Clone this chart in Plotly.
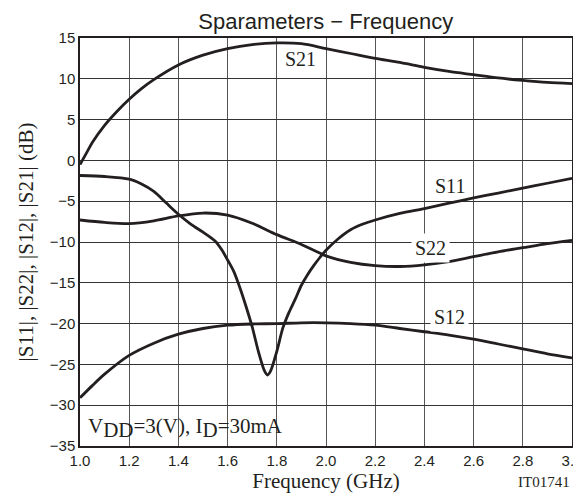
import plotly.graph_objects as go

# ---- data ----
s21_freq = [1.0, 1.03, 1.05, 1.1, 1.15, 1.2, 1.25, 1.3, 1.4, 1.5, 1.6, 1.7, 1.8, 1.9, 2.0, 2.1, 2.2, 2.3, 2.4, 2.5, 2.6, 2.7, 2.8, 2.9, 3.0]
s21_db = [-0.5, 1.1, 2.2, 4.3, 6.0, 7.5, 8.8, 9.9, 11.7, 12.9, 13.7, 14.2, 14.4, 14.3, 13.7, 13.1, 12.5, 12.0, 11.4, 10.9, 10.5, 10.1, 9.8, 9.55, 9.4]

s11_freq = [1.0, 1.1, 1.2, 1.25, 1.3, 1.35, 1.4, 1.45, 1.5, 1.55, 1.575, 1.6, 1.625, 1.65, 1.675, 1.7, 1.725, 1.75, 1.762, 1.775, 1.8, 1.825, 1.85, 1.875, 1.9, 1.925, 1.95, 1.975, 2.0, 2.05, 2.1, 2.15, 2.2, 2.3, 2.4, 2.5, 2.6, 2.7, 2.8, 2.9, 3.0]
s11_db = [-1.85, -1.97, -2.3, -2.9, -3.8, -5.2, -6.6, -7.8, -8.8, -9.9, -10.9, -12.2, -13.6, -15.6, -17.9, -20.4, -23.4, -25.8, -26.3, -25.8, -23.4, -20.5, -18.6, -17.0, -15.3, -14.0, -12.9, -11.9, -11.0, -9.6, -8.5, -7.8, -7.3, -6.5, -5.9, -5.25, -4.6, -4.0, -3.4, -2.8, -2.2]

s22_freq = [1.0, 1.1, 1.2, 1.3, 1.4, 1.5, 1.6, 1.7, 1.8, 1.9, 2.0, 2.1, 2.2, 2.3, 2.4, 2.5, 2.6, 2.7, 2.8, 2.9, 3.0]
s22_db = [-7.3, -7.6, -7.75, -7.4, -6.8, -6.45, -6.7, -7.7, -9.1, -10.3, -11.7, -12.5, -12.9, -13.0, -12.8, -12.4, -11.8, -11.2, -10.7, -10.2, -9.8]

s12_freq = [1.0, 1.05, 1.1, 1.2, 1.3, 1.4, 1.5, 1.6, 1.7, 1.8, 1.9, 2.0, 2.1, 2.2, 2.3, 2.4, 2.5, 2.6, 2.7, 2.8, 2.9, 3.0]
s12_db = [-29.1, -27.6, -26.2, -23.9, -22.4, -21.3, -20.6, -20.2, -20.05, -20.0, -19.9, -19.9, -20.0, -20.2, -20.6, -21.0, -21.4, -21.9, -22.5, -23.1, -23.7, -24.2]

x_ticks = [1.0, 1.2, 1.4, 1.6, 1.8, 2.0, 2.2, 2.4, 2.6, 2.8, 3.0]
x_tick_labels = ["1.0", "1.2", "1.4", "1.6", "1.8", "2.0", "2.2", "2.4", "2.6", "2.8", "3.0"]
y_ticks = [15, 10, 5, 0, -5, -10, -15, -20, -25, -30, -35]
y_tick_labels = ["15", "10", "5", "0", "\u22125", "\u221210", "\u221215", "\u221220", "\u221225", "\u221230", "\u221235"]

curve_labels = ["S21", "S11", "S22", "S12"]
label_freq = [1.895, 2.505, 2.425, 2.50]
label_db = [12.4, -3.1, -10.7, -19.2]
label_bg = [False, False, True, True]

INK = "#231f20"
SERIF = "Liberation Serif, Times New Roman, serif"
SANS = "Liberation Sans, Arial, sans-serif"

# the page body has an 8px default margin, so the figure is sized to fit the window
FIG_W, FIG_H = 573, 487

fig = go.Figure()
for xs, ys in [(s21_freq, s21_db), (s11_freq, s11_db), (s22_freq, s22_db), (s12_freq, s12_db)]:
    fig.add_trace(go.Scatter(x=xs, y=ys, mode="lines",
                             line=dict(color=INK, width=2.8, shape="spline", smoothing=0.8),
                             showlegend=False, hoverinfo="skip"))

for name, fx, fy, bg in zip(curve_labels, label_freq, label_db, label_bg):
    fig.add_annotation(x=fx, y=fy, xref="x", yref="y", text=name, showarrow=False,
                       font=dict(family=SERIF, size=20, color=INK),
                       bgcolor="white" if bg else "rgba(0,0,0,0)", borderpad=3)

fig.add_annotation(x=1.0, y=-35, xref="x", yref="y", xanchor="left", yanchor="bottom",
                   xshift=6, yshift=2, showarrow=False,
                   text='V<sub><span style="font-size:21px">DD</span></sub>=3(V), I<sub><span style="font-size:21px">D</span></sub>=30mA',
                   font=dict(family=SERIF, size=21, color=INK))

fig.add_annotation(x=1.0, y=0, xref="paper", yref="paper", xanchor="right", yanchor="top",
                   yshift=-26, showarrow=False, text="IT01741",
                   font=dict(family=SERIF, size=15, color=INK))

fig.update_layout(
    width=FIG_W, height=FIG_H,
    margin=dict(l=72, r=9, t=30, b=49),
    paper_bgcolor="white", plot_bgcolor="white",
    title=dict(text="Sparameters \u2212 Frequency", x=0.5545, xanchor="center",
               yref="container", y=1 - 21 / FIG_H, yanchor="bottom",
               font=dict(family=SANS, size=22, color=INK)),
    xaxis=dict(range=[1.0, 3.0], tickvals=x_ticks, ticktext=x_tick_labels,
               showgrid=True, gridcolor="#555555", gridwidth=1, zeroline=False,
               showline=True, linecolor=INK, linewidth=1.5, mirror=True, ticks="",
               tickfont=dict(family=SANS, size=15, color=INK), automargin=False,
               ticklabeloverflow="allow",
               title=dict(text="Frequency (GHz)", font=dict(family=SERIF, size=21, color=INK), standoff=3)),
    yaxis=dict(range=[-35, 15], tickvals=y_ticks, ticktext=y_tick_labels,
               showgrid=True, gridcolor="#333333", gridwidth=1, zeroline=False,
               showline=True, linecolor=INK, linewidth=1.5, mirror=True, ticks="",
               tickfont=dict(family=SANS, size=15, color=INK), automargin=False,
               title=dict(text="|S11|, |S22|, |S12|, |S21| (dB)", font=dict(family=SERIF, size=21, color=INK), standoff=10)),
)

fig.write_html("out.html")
